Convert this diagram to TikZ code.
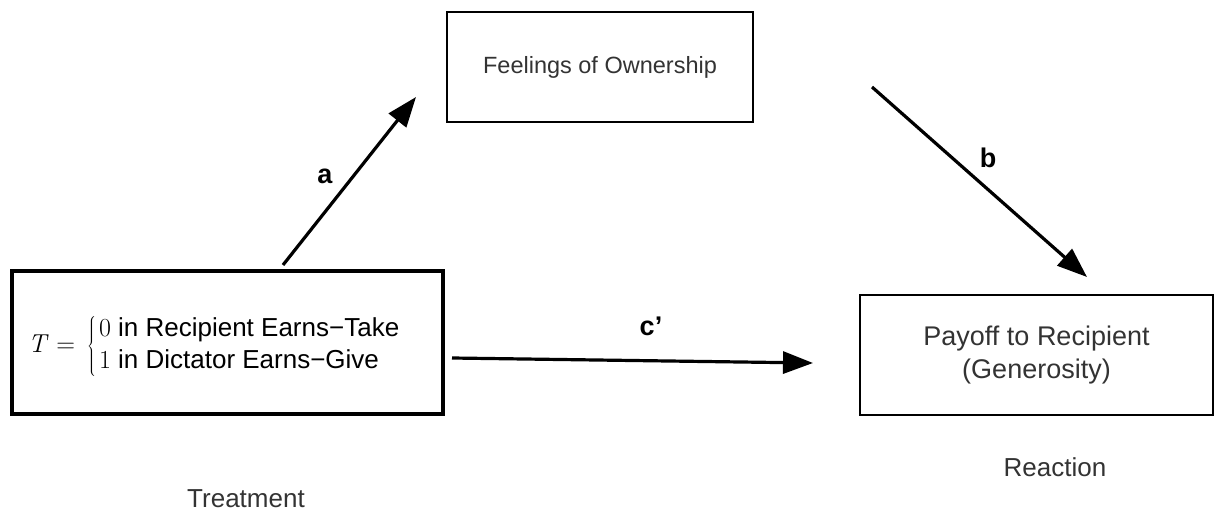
\documentclass[tikz,border=0pt]{standalone}
\usepackage{fontspec}
\setmainfont{Liberation Sans}
\newfontfamily\lmfont{Latin Modern Roman}
\usetikzlibrary{arrows.meta}
\begin{document}
\begin{tikzpicture}[x=1pt,y=-1pt,
  box/.style={draw, rectangle, inner sep=0pt, align=center, text=black!80},
  arr/.style={line width=3.2pt, -{Triangle[length=30pt,width=22pt]}},
  lbl/.style={font=\fontsize{27}{30}\selectfont\bfseries, text=black},
  caption/.style={font=\fontsize{26}{30}\selectfont, text=black!80}
]
\useasboundingbox (0,0) rectangle (1215,513);
% boxes
\node[box, line width=3.2pt, minimum width=431pt, minimum height=143pt] (treat) at (227.5,342.5) {};
\node[anchor=west, text=black, inner sep=0pt] (treattext) at (28,346)
  {\fontsize{26}{32}\selectfont{\lmfont\itshape T}\hspace{10pt}{\lmfont =}\hspace{12pt}$\left\{\begin{tabular}{@{\hspace{3pt}}l@{}}{\lmfont 0} in Recipient Earns−Take\\ {\lmfont 1} in Dictator Earns−Give\end{tabular}\right.$};
\node[box, line width=2pt, minimum width=306pt, minimum height=110pt, font=\fontsize{23.5}{28}\selectfont] (own) at (600,67) {Feelings of Ownership};
\node[box, line width=2.4pt, minimum width=353pt, minimum height=120pt, font=\fontsize{27}{33}\selectfont] (pay) at (1036.5,355) {Payoff to Recipient\\(Generosity)};
% connectors
\coordinate (a1) at (283,265);
\coordinate (a2) at (416,97);
\coordinate (b1) at (872,87);
\coordinate (b2) at (1087,277);
\coordinate (c1) at (452,358);
\coordinate (c2) at (813,363);
\draw[arr] (a1) -- (a2);
\draw[arr] (b1) -- (b2);
\draw[arr] (c1) -- (c2);
% labels
\node[lbl] (la) at (325,176) {a};
\node[lbl] (lb) at (988,158) {b};
\node[lbl] (lc) at (651,326) {c’};
\node[caption] (tt) at (246,499) {Treatment};
\node[caption] (rt) at (1055,467) {Reaction};
\end{tikzpicture}
\end{document}
